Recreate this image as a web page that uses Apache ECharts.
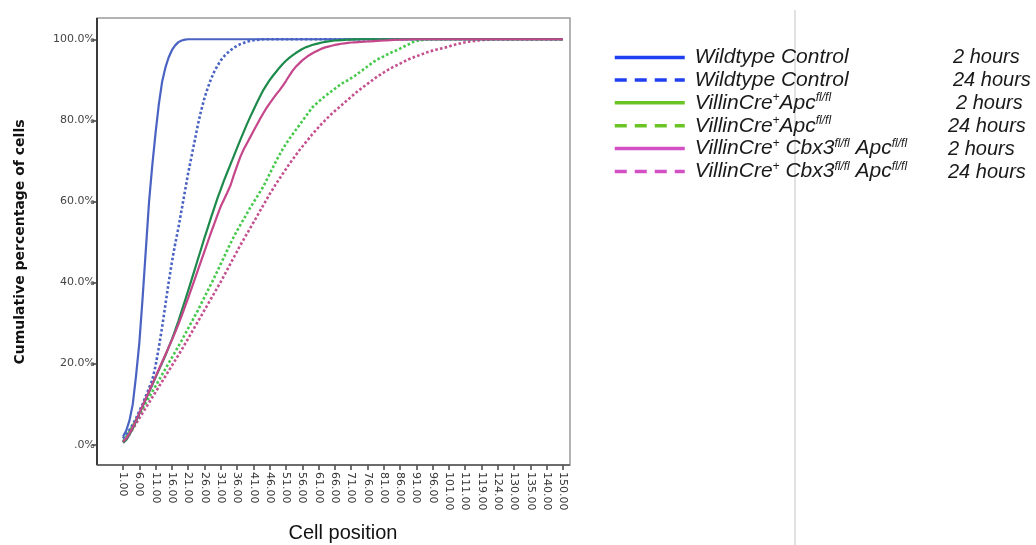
<!DOCTYPE html>
<html>
<head>
<meta charset="utf-8">
<script src="https://cdn.jsdelivr.net/npm/echarts@6/dist/echarts.min.js"></script>
<style>html,body{margin:0;padding:0;background:#fff;}#c{width:1036px;height:545px;}</style>
</head>
<body>
<div id="c"></div>
<script>
// Cell positions present on the category axis
const categories = [
  1,2,3,4,5,6,7,8,9,10,
  11,12,13,14,15,16,17,18,19,20,
  21,22,23,24,25,26,27,28,29,30,
  31,32,33,34,35,36,37,38,39,40,
  41,42,43,44,45,46,47,48,49,50,
  51,52,53,54,55,56,57,58,59,60,
  61,62,63,64,65,66,67,68,69,70,
  71,72,73,74,75,76,77,78,79,80,
  81,82,83,84,85,86,87,88,89,90,
  91,92,93,94,95,96,97,98,99,100,
  101,103,105,107,109,111,112,114,116,118,
  119,120,121,122,123,124,125,126,127,129,
  130,131,132,133,134,135,136,137,138,139,
  140,142,144,146,148,150
];

const yTicks = [0, 20, 40, 60, 80, 100];

const seriesNames = [
  'Wildtype Control 2 hours',
  'Wildtype Control 24 hours',
  'VillinCre+Apcfl/fl 2 hours',
  'VillinCre+Apcfl/fl 24 hours',
  'VillinCre+ Cbx3fl/fl Apcfl/fl 2 hours',
  'VillinCre+ Cbx3fl/fl Apcfl/fl 24 hours'
];
const legendLabels = [
  '{f|Wildtype Control}',
  '{f|Wildtype Control}',
  '{f|VillinCre}{s|+}{n|Apc}{s|fl/fl}',
  '{f|VillinCre}{s|+}{n|Apc}{s|fl/fl}',
  '{f|VillinCre}{s|+}{n| Cbx3}{s|fl/fl}{n| Apc}{s|fl/fl}',
  '{f|VillinCre}{s|+}{n| Cbx3}{s|fl/fl}{n| Apc}{s|fl/fl}'
];
const legendHours = ['2 hours', '24 hours', '2 hours', '24 hours', '2 hours', '24 hours'];

const wt2h = [
  2,3.5,6,10,17,25,36,48,60,69,
  77,84,89.5,93,95.5,97.3,98.5,99.3,99.7,99.9,
  100,100,100,100,100,100,100,100,100,100,
  100,100,100,100,100,100,100,100,100,100,
  100,100,100,100,100,100,100,100,100,100,
  100,100,100,100,100,100,100,100,100,100,
  100,100,100,100,100,100,100,100,100,100,
  100,100,100,100,100,100,100,100,100,100,
  100,100,100,100,100,100,100,100,100,100,
  100,100,100,100,100,100,100,100,100,100,
  100,100,100,100,100,100,100,100,100,100,
  100,100,100,100,100,100,100,100,100,100,
  100,100,100,100,100,100,100,100,100,100,
  100,100,100,100,100,100
];
const wt24h = [
  1.5,2.5,3.7,5,6.5,8.3,10,12,14,16,
  19.5,24,29,34.5,40,45,49.5,53.5,58,62.5,
  67,71,75,79,82.5,85.5,88,90.2,92,93.5,
  94.8,95.8,96.6,97.3,97.9,98.4,98.8,99.1,99.4,99.6,
  99.75,99.85,99.92,100,100,100,100,100,100,100,
  100,100,100,100,100,100,100,100,100,100,
  100,100,100,100,100,100,100,100,100,100,
  100,100,100,100,100,100,100,100,100,100,
  100,100,100,100,100,100,100,100,100,100,
  100,100,100,100,100,100,100,100,100,100,
  100,100,100,100,100,100,100,100,100,100,
  100,100,100,100,100,100,100,100,100,100,
  100,100,100,100,100,100,100,100,100,100,
  100,100,100,100,100,100
];
const apc2h = [
  0.5,1.2,2.5,4,5.8,7.6,9.4,11.2,13,14.8,
  16.6,18.4,20.2,22,24,26,28.2,30.5,33,35.5,
  38,40.6,43.2,45.8,48.4,51,53.5,56,58.4,60.8,
  63,65.2,67.2,69.2,71.2,73.2,75.2,77.1,79,80.8,
  82.5,84.2,85.8,87.4,88.7,89.9,91,92,93,93.9,
  94.7,95.4,96,96.6,97.1,97.6,98,98.3,98.6,98.8,
  99,99.2,99.35,99.5,99.6,99.7,99.75,99.8,99.85,99.9,
  99.93,99.96,99.98,100,100,100,100,100,100,100,
  100,100,100,100,100,100,100,100,100,100,
  100,100,100,100,100,100,100,100,100,100,
  100,100,100,100,100,100,100,100,100,100,
  100,100,100,100,100,100,100,100,100,100,
  100,100,100,100,100,100,100,100,100,100,
  100,100,100,100,100,100
];
const apc24h = [
  0.8,2,3.3,4.7,6.1,7.5,8.9,10.3,11.7,13.1,
  14.5,15.9,17.3,18.7,20.1,21.5,22.9,24.3,25.7,27.2,
  28.7,30.2,31.7,33.2,34.8,36.4,38,39.6,41.2,42.9,
  44.6,46.3,48,49.7,51.3,52.8,54.2,55.6,57,58.4,
  59.7,61,62.3,63.6,65.2,66.8,68.4,70,71.5,72.9,
  74.2,75.4,76.5,77.6,78.7,79.8,80.9,82,83.1,83.9,
  84.6,85.3,86,86.6,87.2,87.8,88.4,89,89.5,89.9,
  90.4,90.9,91.5,92.1,92.7,93.3,93.9,94.5,95,95.4,
  95.8,96.2,96.6,97,97.3,97.7,98.1,98.5,98.9,99.3,
  99.6,99.75,99.85,99.9,99.95,100,100,100,100,100,
  100,100,100,100,100,100,100,100,100,100,
  100,100,100,100,100,100,100,100,100,100,
  100,100,100,100,100,100,100,100,100,100,
  100,100,100,100,100,100
];
const cbx2h = [
  0.8,1.5,2.8,4.3,6,7.8,9.6,11.4,13.2,15,
  16.8,18.6,20.4,22.2,24,25.8,27.7,29.7,31.8,34,
  36.2,38.5,40.8,43.1,45.4,47.7,50,52.3,54.5,56.7,
  58.8,60.5,62.2,64,66.5,68.8,71,72.8,74.3,75.8,
  77.3,78.8,80.3,81.7,83,84.2,85.3,86.4,87.4,88.5,
  89.7,91,92.2,93.2,94,94.8,95.4,96,96.5,96.9,
  97.3,97.7,98,98.2,98.4,98.6,98.75,98.9,99,99.1,
  99.2,99.25,99.3,99.35,99.4,99.45,99.5,99.55,99.6,99.65,
  99.7,99.75,99.8,99.85,99.88,99.9,99.93,99.95,99.97,100,
  100,100,100,100,100,100,100,100,100,100,
  100,100,100,100,100,100,100,100,100,100,
  100,100,100,100,100,100,100,100,100,100,
  100,100,100,100,100,100,100,100,100,100,
  100,100,100,100,100,100
];
const cbx24h = [
  0.5,1.4,2.6,3.9,5.2,6.5,7.8,9.1,10.4,11.7,
  13,14.3,15.6,16.9,18.2,19.5,20.8,22.1,23.4,24.8,
  26.2,27.6,29,30.4,31.8,33.2,34.6,36,37.4,38.8,
  40.2,41.7,43.2,44.7,46.2,47.7,49.2,50.6,52,53.4,
  54.8,56.2,57.6,59,60.4,61.8,63.1,64.4,65.6,66.8,
  68,69.2,70.3,71.4,72.5,73.5,74.5,75.5,76.5,77.4,
  78.3,79.2,80,80.8,81.6,82.3,83,83.7,84.4,85.1,
  85.8,86.5,87.2,87.8,88.4,89,89.6,90.2,90.8,91.3,
  91.8,92.3,92.8,93.2,93.6,94,94.4,94.8,95.2,95.5,
  95.8,96.1,96.4,96.7,97,97.2,97.4,97.6,97.8,98,
  98.2,98.5,98.7,98.9,99.1,99.25,99.4,99.5,99.6,99.7,
  99.8,99.85,99.9,99.95,99.98,100,100,100,100,100,
  100,100,100,100,100,100,100,100,100,100,
  100,100,100,100,100,100
];

const seriesData = [wt2h, wt24h, apc2h, apc24h, cbx2h, cbx24h];
const lineColors = ['#4a63c3', '#4a63c3', '#1d8a4c', '#47c94d', '#c5468b', '#c4508f'];
const dotted = [false, true, false, true, false, true];
const legendColors = ['#1f3ff0', '#1f3ff0', '#6ac426', '#6ac426', '#d24fc4', '#d24fc4'];

const chart = echarts.init(document.getElementById('c'), null, {renderer: 'canvas'});

const FRAME = {l: 97, t: 18, r: 570, b: 465};

const option = {
  backgroundColor: '#ffffff',
  animation: false,
  grid: {left: 123, right: 473, top: 19, bottom: 80, containLabel: false, outerBoundsMode: 'none'},
  xAxis: {
    type: 'category',
    data: categories,
    boundaryGap: false,
    name: 'Cell position',
    nameLocation: 'middle',
    nameGap: 58,
    nameTextStyle: {fontFamily: 'Liberation Sans', fontSize: 20, color: '#111'},
    axisLine: {show: false, onZero: false},
    axisTick: {show: true, interval: 4, length: 5, lineStyle: {color: '#444', width: 1.5}},
    axisLabel: {
      interval: 4, rotate: -90, margin: 7,
      fontFamily: 'DejaVu Sans', fontSize: 11, color: '#333',
      formatter: v => Number(v).toFixed(2)
    },
    splitLine: {show: false}
  },
  yAxis: {
    type: 'value',
    min: -5, max: 105,
    offset: 26,
    name: 'Cumulative percentage of cells',
    nameLocation: 'middle',
    nameGap: 70,
    nameTextStyle: {fontFamily: 'DejaVu Sans', fontSize: 14, fontWeight: 'bold', color: '#111'},
    axisLine: {show: false, onZero: false},
    axisTick: {show: true, customValues: yTicks, length: 5, lineStyle: {color: '#444', width: 1.5}},
    axisLabel: {
      customValues: yTicks, margin: 2,
      fontFamily: 'DejaVu Sans', fontSize: 11, color: '#444',
      formatter: v => (v === 0 ? '.0%' : v.toFixed(1) + '%')
    },
    splitLine: {show: false}
  },
  legend: {
    orient: 'vertical',
    left: 608, top: 42,
    itemWidth: 70, itemHeight: 14, itemGap: 1.4,
    selectedMode: false,
    data: seriesNames.map((n, i) => ({
      name: n,
      lineStyle: {color: legendColors[i], width: 3.5, type: dotted[i] ? [12, 8] : 'solid'},
      itemStyle: {color: 'rgba(0,0,0,0)', opacity: 0, borderWidth: 0}
    })),
    formatter: name => legendLabels[seriesNames.indexOf(name)],
    textStyle: {
      fontFamily: 'Liberation Sans', fontStyle: 'italic', fontSize: 21, color: '#1a1a1a',
      rich: {
        f: {fontFamily: 'Liberation Sans', fontStyle: 'italic', fontSize: 21, lineHeight: 22, padding: [0, 0, 0, 5], color: '#1a1a1a'},
        n: {fontFamily: 'Liberation Sans', fontStyle: 'italic', fontSize: 21, lineHeight: 22, color: '#1a1a1a'},
        s: {fontFamily: 'Liberation Sans', fontStyle: 'italic', fontSize: 12, lineHeight: 12, verticalAlign: 'top', color: '#1a1a1a'}
      }
    }
  },
  graphic: [
    {type: 'rect', z: 0, silent: true,
     shape: {x: FRAME.l, y: FRAME.t, width: FRAME.r - FRAME.l, height: FRAME.b - FRAME.t},
     style: {fill: 'none', stroke: '#9a9a9a', lineWidth: 1.5}},
    {type: 'line', z: 10, silent: true,
     shape: {x1: FRAME.l, y1: FRAME.t, x2: FRAME.l, y2: FRAME.b},
     style: {stroke: '#3a3a3a', lineWidth: 2}},
    {type: 'line', z: 10, silent: true,
     shape: {x1: FRAME.l, y1: FRAME.b, x2: FRAME.r, y2: FRAME.b},
     style: {stroke: '#555', lineWidth: 1.5}},
    {type: 'line', z: 0, silent: true,
     shape: {x1: 795, y1: 10, x2: 795, y2: 545},
     style: {stroke: '#c4c4c4', lineWidth: 1}}
  ].concat(legendHours.map((h, i) => ({
    type: 'text', silent: true,
    x: [953, 953, 956, 948, 948, 948][i],
    y: 57 + i * 23,
    style: {text: h, fontFamily: 'Liberation Sans', fontStyle: 'italic', fontSize: 20,
            fill: '#1a1a1a', verticalAlign: 'middle', align: 'left'}
  }))),
  series: seriesData.map((d, i) => ({
    name: seriesNames[i],
    type: 'line',
    data: d,
    symbol: 'none',
    smooth: false,
    z: 3 + (dotted[i] ? 0 : 1),
    lineStyle: {color: lineColors[i], width: dotted[i] ? 2.6 : 2.2, type: dotted[i] ? [2.6, 2.2] : 'solid'},
    itemStyle: {color: lineColors[i]}
  }))
};

chart.setOption(option);
</script>
</body>
</html>
